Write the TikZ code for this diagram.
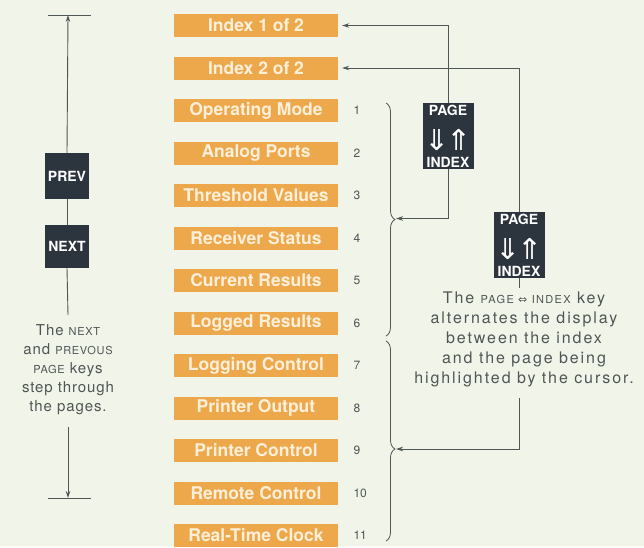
\documentclass[tikz,border=0pt]{standalone}
\usepackage{fontspec}
\usepackage{graphicx}
\setmainfont{TeX Gyre Heros}
\newfontfamily\symfont{DejaVu Sans}
\usetikzlibrary{arrows.meta,positioning,decorations.pathreplacing}
\definecolor{paper}{RGB}{241,244,232}
\definecolor{tan}{RGB}{238,168,76}
\definecolor{keygray}{RGB}{44,53,62}
\definecolor{ink}{RGB}{78,86,86}
\definecolor{cream}{RGB}{252,240,218}
\newcommand{\keyname}[1]{{\fontsize{11}{12}\selectfont #1}}
\newcommand{\flipkey}{PAGE\\[13pt]{\symfont\fontsize{24}{24}\selectfont\mdseries\scalebox{1.25}[1.2]{⇓\kern-3pt⇑}}\\[3pt]INDEX}
\tikzset{
	pagebox/.style={
		fill=tan, minimum width=164pt, minimum height=23pt,
		inner sep=0pt, text=cream,
		font=\bfseries\fontsize{17.5}{18}\selectfont
	},
	keybox/.style={
		fill=keygray, inner sep=0pt, text=white, align=center,
		font=\bfseries\fontsize{14}{14}\selectfont
	},
	conn/.style={draw=ink, line width=0.9pt},
	tip/.style={-{Stealth[length=7pt,width=4.5pt]}},
}
\begin{document}
\begin{tikzpicture}[x=1pt,y=-1pt,
		pagenum/.style={anchor=west, text=ink, font=\fontsize{12}{12}\selectfont},
		note/.style={text=ink, align=center}]
	\fill[paper] (0,0) rectangle (644,546);

	% page list
	\node[pagebox] (idxa) at (256,25.5) {Index 1 of 2};
	\node[pagebox] (idxb) at (256,68) {Index 2 of 2};
	\foreach \n/\t [evaluate=\n as \y using 68+42.5*\n] in
		{1/Operating Mode, 2/Analog Ports, 3/Threshold Values,
		 4/Receiver Status, 5/Current Results, 6/Logged Results,
		 7/Logging Control, 8/Printer Output, 9/Printer Control,
		 10/Remote Control, 11/Real-Time Clock}
	{
		\node[pagebox] (p\n) at (256,\y) {\t};
		\node[pagenum] (num\n) at (350,\y) {\n};
	}

	% braces
	\draw[conn, line width=0.8pt, decorate, decoration={brace, amplitude=9pt}]
		(386,103) -- (386,336);
	\coordinate (tipa) at (396,218.5);
	\draw[conn, line width=0.8pt, decorate, decoration={brace, amplitude=9pt, aspect=0.54}]
		(386,341) -- (386,541);
	\coordinate (tipb) at (396,449);

	% keys on the left
	\node[keybox, minimum width=44pt, minimum height=46pt] (prev) at (67,176) {PREV};
	\node[keybox, minimum width=44pt, minimum height=43pt] (next) at (67,246.5) {NEXT};
	\node[note, font=\fontsize{15}{19}\selectfont\addfontfeature{LetterSpace=6}] (stepnote) at (68,369.5)
		{The \keyname{NEXT}\\and \keyname{PREVOUS}\\\keyname{PAGE} keys\\step through\\the pages.};
	\coordinate (topbar) at (68,15);
	\coordinate (botbar) at (68,498);
	\draw[conn] ([xshift=-20pt]topbar) -- ([xshift=23pt]topbar);
	\draw[conn] ([xshift=-20pt]botbar) -- ([xshift=23pt]botbar);
	\draw[conn, tip] (prev.north) -- (topbar);
	\draw[conn] (prev.south) -- (next.north);
	\draw[conn] (next.south) -- (68,315);
	\draw[conn, tip] (68,427) -- (botbar);

	% page/index keys
	\node[keybox, minimum width=51pt, minimum height=66pt] (keya) at (448,136) {\flipkey};
	\node[keybox, minimum width=51pt, minimum height=66pt] (keyb) at (519,245) {\flipkey};
	\node[note, font=\fontsize{16}{20}\selectfont\addfontfeature{LetterSpace=12}] (flipnote) at (524,339)
		{The \keyname{PAGE {\symfont ⇔} INDEX} key\\alternates the display\\between the index\\and the page being\\highlighted by the cursor.};
	\draw[conn, tip, shorten >=4pt] (keya.north) |- (idxa.east);
	\draw[conn, tip] (keya.south) |- (tipa);
	\draw[conn, tip, shorten >=4pt] (keyb.north) |- (idxb.east);
	\draw[conn] (keyb.south) -- (keyb.south |- flipnote.north);
	\draw[conn, tip] (keyb.south |- 0,398) |- (tipb);
\end{tikzpicture}
\end{document}
